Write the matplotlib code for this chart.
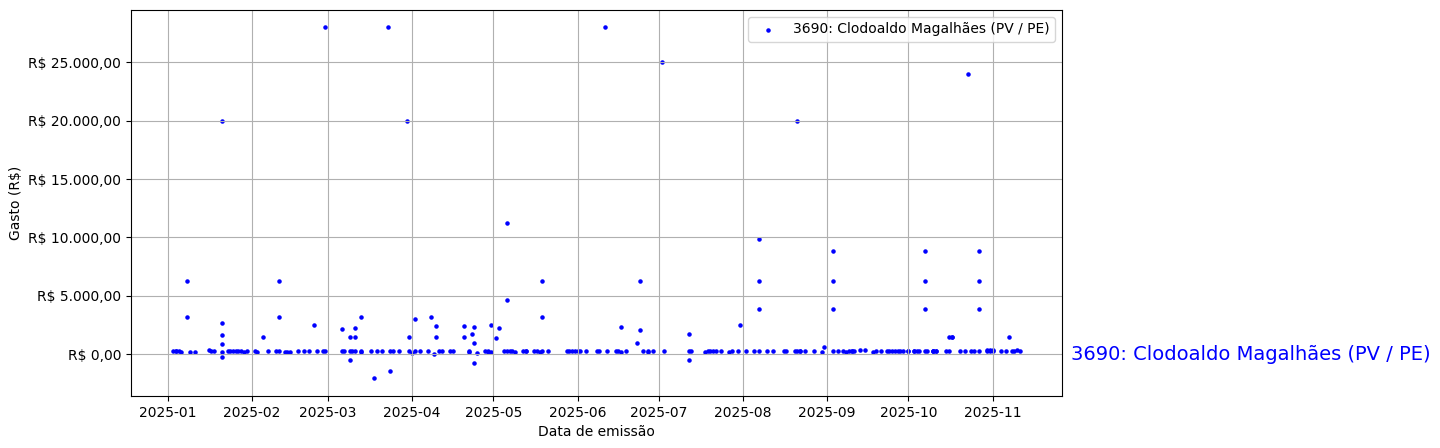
import pandas as pd
import numpy as np
import matplotlib.pyplot as plt
import matplotlib.dates as mdates
from matplotlib.ticker import FuncFormatter
from matplotlib.transforms import blended_transform_factory

# dados
datas = [
    "2025-01-03", "2025-01-04", "2025-01-04", "2025-01-05", "2025-01-06", "2025-01-08", "2025-01-08",
    "2025-01-09", "2025-01-11", "2025-01-16", "2025-01-17", "2025-01-18",
    "2025-01-21", "2025-01-21", "2025-01-21", "2025-01-21", "2025-01-21", "2025-01-21",
    "2025-01-23", "2025-01-24", "2025-01-25", "2025-01-26", "2025-01-27", "2025-01-28", "2025-01-29", "2025-01-30",
    "2025-02-02", "2025-02-03", "2025-02-05", "2025-02-07", "2025-02-10", "2025-02-11", "2025-02-11", "2025-02-11",
    "2025-02-13", "2025-02-14", "2025-02-15", "2025-02-18", "2025-02-20", "2025-02-22", "2025-02-24", "2025-02-25",
    "2025-02-27", "2025-02-28", "2025-02-28",
    "2025-03-06", "2025-03-06", "2025-03-07", "2025-03-09", "2025-03-09", "2025-03-09", "2025-03-10",
    "2025-03-11", "2025-03-11", "2025-03-11", "2025-03-13", "2025-03-13", "2025-03-13", "2025-03-17",
    "2025-03-18", "2025-03-19", "2025-03-21", "2025-03-23", "2025-03-24", "2025-03-24", "2025-03-25",
    "2025-03-27", "2025-03-30", "2025-03-31", "2025-03-31", "2025-04-01",
    "2025-04-02", "2025-04-02", "2025-04-04", "2025-04-07", "2025-04-08", "2025-04-09", "2025-04-10", "2025-04-10",
    "2025-04-11", "2025-04-12", "2025-04-15", "2025-04-16", "2025-04-20", "2025-04-20", "2025-04-22", "2025-04-22",
    "2025-04-23", "2025-04-24", "2025-04-24", "2025-04-24", "2025-04-25", "2025-04-28", "2025-04-29", "2025-04-29",
    "2025-04-30", "2025-04-30",
    "2025-05-02", "2025-05-03", "2025-05-05", "2025-05-06", "2025-05-06", "2025-05-06", "2025-05-07", "2025-05-08",
    "2025-05-09", "2025-05-12", "2025-05-13", "2025-05-13", "2025-05-16", "2025-05-17", "2025-05-18", "2025-05-19",
    "2025-05-19", "2025-05-19", "2025-05-21", "2025-05-28", "2025-05-29", "2025-05-30", "2025-05-31", "2025-06-01",
    "2025-06-02", "2025-06-04", "2025-06-08", "2025-06-09", "2025-06-11", "2025-06-12", "2025-06-15", "2025-06-16",
    "2025-06-17", "2025-06-17", "2025-06-19", "2025-06-23", "2025-06-24", "2025-06-24", "2025-06-25", "2025-06-27",
    "2025-06-27", "2025-06-29",
    "2025-07-02", "2025-07-03", "2025-07-12", "2025-07-12", "2025-07-12", "2025-07-13", "2025-07-18", "2025-07-19",
    "2025-07-20", "2025-07-21", "2025-07-22", "2025-07-24", "2025-07-27", "2025-07-28", "2025-07-30", "2025-07-31",
    "2025-08-02", "2025-08-05", "2025-08-07", "2025-08-07", "2025-08-07", "2025-08-07", "2025-08-10", "2025-08-12",
    "2025-08-16", "2025-08-17", "2025-08-20", "2025-08-21", "2025-08-21", "2025-08-22", "2025-08-22", "2025-08-24",
    "2025-08-27", "2025-08-30", "2025-08-31",
    "2025-09-03", "2025-09-03", "2025-09-03", "2025-09-03", "2025-09-05", "2025-09-07", "2025-09-08", "2025-09-09",
    "2025-09-10", "2025-09-10", "2025-09-11", "2025-09-13", "2025-09-15", "2025-09-18", "2025-09-19", "2025-09-21",
    "2025-09-23", "2025-09-24", "2025-09-25", "2025-09-26", "2025-09-27", "2025-09-28", "2025-09-29",
    "2025-10-01", "2025-10-01", "2025-10-03", "2025-10-03", "2025-10-04", "2025-10-05", "2025-10-07", "2025-10-07",
    "2025-10-07", "2025-10-07", "2025-10-08", "2025-10-10", "2025-10-10", "2025-10-10", "2025-10-11", "2025-10-11",
    "2025-10-15", "2025-10-16", "2025-10-16", "2025-10-17", "2025-10-17", "2025-10-20", "2025-10-22", "2025-10-23",
    "2025-10-24", "2025-10-25", "2025-10-27", "2025-10-27", "2025-10-27", "2025-10-27", "2025-10-30", "2025-10-30",
    "2025-10-31", "2025-10-31", "2025-11-01", "2025-11-01",
    "2025-11-04", "2025-11-06", "2025-11-07", "2025-11-08", "2025-11-09", "2025-11-10", "2025-11-11",
]
valores = [
    240, 250, 230, 240, 220, 6250, 3150,
    200, 200, 310, 300, 260,
    20000, 2640, 1610, 830, 200, -280,
    300, 250, 300, 260, 300, 280, 220, 290,
    230, 200, 1460, 300, 230, 6250, 3150, 230,
    210, 180, 220, 300, 230, 230, 2490, 230,
    230, 28000, 250,
    2120, 230, 230, 1460, -540, 300, 230,
    2210, 1460, 230, 3150, 230, 180, 230,
    -2090, 300, 230, 28000, -1490, 230, 300,
    300, 20000, 1460, 230, 120,
    2980, 230, 300, 230, 3150, 10, 2380, 1460,
    300, 230, 300, 230, 2380, 1460, 230, 200,
    1690, 2290, 920, -800, 100, 300, 260, 220,
    200, 2490,
    1350, 2210, 230, 11230, 4610, 300, 300, 230,
    200, 230, 230, 300, 300, 250, 200, 6250,
    3150, 230, 230, 230, 230, 230, 250, 300,
    230, 300, 230, 230, 28000, 230, 300, 250,
    2290, 200, 230, 920, 6250, 2030, 230, 300,
    180, 300,
    25000, 300, 1690, -540, 230, 300, 200, 300,
    300, 300, 230, 300, 200, 230, 300, 2490,
    230, 230, 9880, 6250, 3840, 300, 300, 230,
    230, 230, 230, 20000, 300, 230, 250, 230,
    230, 180, 600,
    8850, 6250, 3840, 230, 230, 300, 150, 230,
    230, 300, 300, 350, 350, 200, 230, 230,
    230, 230, 230, 230, 300, 300, 300,
    300, 230, 230, 230, 230, 230, 8850, 6250,
    3840, 300, 300, 230, 250, 300, 230, 280,
    230, 300, 1460, 1460, 1460, 300, 230, 24000,
    230, 300, 8850, 6250, 3840, 300, 300, 350,
    300, 380, 230, 350,
    230, 300, 1460, 230, 300, 350, 230,
]
nome = "3690: Clodoaldo Magalhães (PV / PE)"

df = pd.DataFrame({"data": pd.to_datetime(datas), "valor": valores})


def brl(v, pos):
    s = f"{v:,.2f}".replace(",", "X").replace(".", ",").replace("X", ".")
    return "R$ " + s


fig, ax = plt.subplots(figsize=(14.4, 4.48), dpi=100)
fig.subplots_adjust(left=0.091, right=0.7375, top=0.978, bottom=0.116)

ax.scatter(df["data"], df["valor"], s=5, color="blue", label=nome)

ax.xaxis.set_major_locator(mdates.MonthLocator())
ax.xaxis.set_major_formatter(mdates.DateFormatter("%Y-%m"))
ax.yaxis.set_major_formatter(FuncFormatter(brl))
ax.set_xlabel("Data de emissão")
ax.set_ylabel("Gasto (R$)")
ax.grid(True)
ax.legend(loc="upper right")

# nome ao lado do eixo
trans = blended_transform_factory(ax.transAxes, ax.transData)
ax.text(1.01, 0, nome, color="blue", fontsize=14, va="center", ha="left", transform=trans)

plt.savefig("out.png")
